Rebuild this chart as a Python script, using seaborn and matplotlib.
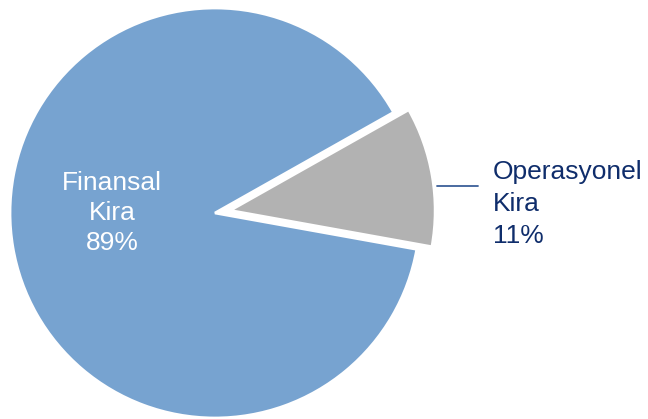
import matplotlib
matplotlib.use("Agg")
import matplotlib.pyplot as plt
import seaborn as sns

# Lease type shares (%)
categories = ["Operasyonel\nKira", "Finansal\nKira"]
shares = [11, 89]
colors = ["#B2B2B2", "#77A3D0"]
explode = [0.075, 0.0]

sns.set_theme(style="white")
plt.rcParams["font.family"] = ["Liberation Sans", "DejaVu Sans"]

fig = plt.figure(figsize=(6.48, 4.19), dpi=100)
ax = fig.add_axes([0, 0, 1, 1])
ax.set_axis_off()

wedges, _ = ax.pie(
    shares,
    colors=colors,
    explode=explode,
    startangle=-10.2,
    counterclock=True,
    radius=1.0,
    center=(0, 0),
    wedgeprops=dict(edgecolor="white", linewidth=2),
    frame=False,
)

ax.set_xlim(-215 / 205, (648 - 215) / 205)
ax.set_ylim(-206 / 205, 213 / 205)
ax.set_aspect("auto")

# Inside label for the large slice
ax.text(-0.502, 0.0, f"{categories[1]}\n{shares[1]}%", color="white",
        fontsize=19, ha="center", va="center", linespacing=1.32)

# Outside label for the small slice with a leader line
ax.plot([1.083, 1.283], [0.132, 0.132], color="#3B5F99", lw=1.3)
ax.text(1.356, 0.044, f"{categories[0]}\n{shares[0]}%", color="#0F2D6B",
        fontsize=19, ha="left", va="center", linespacing=1.4)

fig.savefig("out.png", dpi=100)
